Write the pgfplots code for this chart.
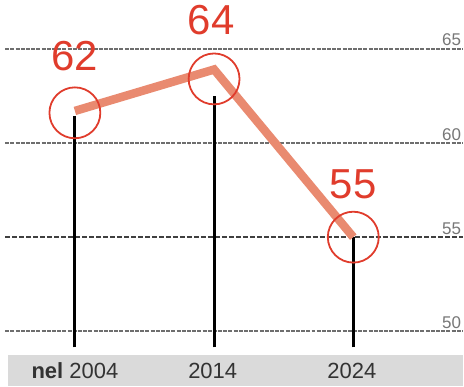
\documentclass[border=0pt]{standalone}
\usepackage{pgfplots}
\pgfplotsset{compat=1.18}
\usepackage{fontspec}
\setmainfont{Liberation Sans}
\definecolor{lblred}{HTML}{E03C2C}
\definecolor{lineor}{HTML}{E98A70}
\definecolor{band}{HTML}{DADADA}
\definecolor{gridg}{HTML}{6E6E6E}
\definecolor{ticklab}{HTML}{777777}
\definecolor{bottxt}{HTML}{333333}
\begin{document}
\begin{tikzpicture}
\begin{axis}[
  scale only axis, width=464pt, height=387pt,
  xmin=-0.538, xmax=2.789, ymin=47.085, ymax=67.59,
  hide axis, clip=false,
]
\path (rel axis cs:0,0) rectangle (rel axis cs:1,1);
% bottom band
\fill[band] (axis cs:-0.48,48.73) rectangle (axis cs:2.789,47.085);
% gridlines
\draw[gridg, line width=1.8pt, dash pattern=on 4pt off 1.2pt] (axis cs:-0.50,65) -- (axis cs:2.789,65);
\draw[gridg, line width=1.8pt, dash pattern=on 4pt off 1.2pt] (axis cs:-0.50,60) -- (axis cs:2.789,60);
\draw[black!75, line width=1.8pt, dash pattern=on 5pt off 2pt] (axis cs:-0.50,55) -- (axis cs:2.789,55);
\draw[gridg, line width=1.8pt, dash pattern=on 4pt off 1.2pt] (axis cs:-0.50,50) -- (axis cs:2.789,50);
% right labels
\node[anchor=base east, text=ticklab, font=\fontsize{17}{17}\selectfont, inner sep=0pt] at (axis cs:2.775,65.15) {65};
\node[anchor=base east, text=ticklab, font=\fontsize{17}{17}\selectfont, inner sep=0pt] at (axis cs:2.775,60.15) {60};
\node[anchor=base east, text=ticklab, font=\fontsize{17}{17}\selectfont, inner sep=0pt] at (axis cs:2.775,55.15) {55};
\node[anchor=base east, text=ticklab, font=\fontsize{17}{17}\selectfont, inner sep=0pt] at (axis cs:2.775,50.15) {50};
% stems
\addplot[black, line width=3pt, forget plot] coordinates {(0,49.15) (0,61.45)};
\addplot[black, line width=3pt, forget plot] coordinates {(1,49.15) (1,62.5)};
\addplot[black, line width=3pt, forget plot] coordinates {(2,49.15) (2,55.0)};
% line
\addplot[lineor, line width=8.5pt, line join=miter] coordinates {(0,61.7) (1,63.9) (2,55.0)};
% circles
\addplot[only marks, mark=o, mark size=25.5pt, lblred, mark options={line width=1.8pt}] coordinates {(0,61.6) (1,63.4) (2,55.0)};
% value labels
\node[text=lblred, font=\fontsize{42}{42}\selectfont, inner sep=0pt] at (axis cs:0,64.6) {62};
\node[text=lblred, font=\fontsize{42}{42}\selectfont, inner sep=0pt] at (axis cs:0.98,66.5) {64};
\node[text=lblred, font=\fontsize{42}{42}\selectfont, inner sep=0pt] at (axis cs:2,57.8) {55};
% bottom labels
\node[text=bottxt, font=\fontsize{22}{22}\selectfont, inner sep=0pt] at (axis cs:0,47.9) {\textbf{nel} 2004};
\node[text=bottxt, font=\fontsize{22}{22}\selectfont, inner sep=0pt] at (axis cs:0.99,47.9) {2014};
\node[text=bottxt, font=\fontsize{22}{22}\selectfont, inner sep=0pt] at (axis cs:1.99,47.9) {2024};
\end{axis}
\end{tikzpicture}
\end{document}
